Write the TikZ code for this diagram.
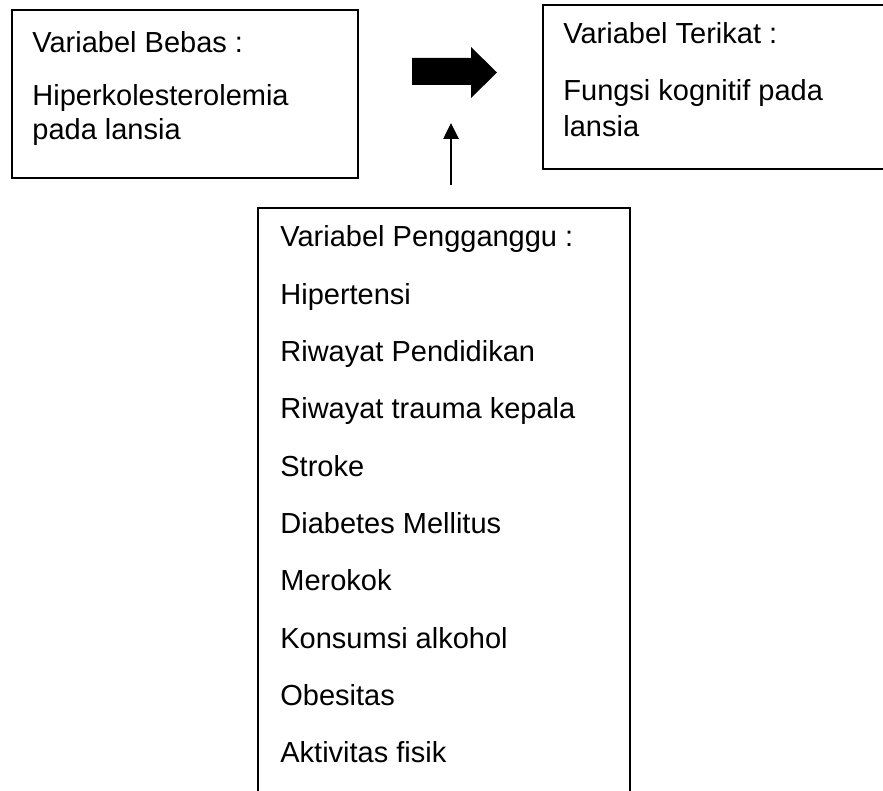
\documentclass[tikz,border=0pt]{standalone}
\usepackage{fontspec}
\setmainfont{Liberation Sans}
\usetikzlibrary{fit,arrows.meta}

\tikzset{
  kotak/.style={rectangle, draw, line width=0.6pt, inner sep=0pt},
  teks/.style={anchor=base west, inner sep=0pt, font=\fontsize{14.5}{17}\selectfont},
}

\begin{document}
\begin{tikzpicture}[x=0.5pt, y=-0.5pt]

\clip (0,0) rectangle (883,791);
\fill[white] (0,0) rectangle (883,791);

\node[kotak, fit={(12,10) (358,178)}] (bebas) {};
\node[kotak, fit={(543,5) (900,169)}] (terikat) {};
\node[kotak, fit={(258,208) (630,820)}] (ganggu) {};

\node[teks] (bebas1) at (32,53) {Variabel Bebas :};
\node[teks] (bebas2) at (32,106) {Hiperkolesterolemia};
\node[teks] (bebas3) at (32,140) {pada lansia};

\node[teks] (terikat1) at (563,44) {Variabel Terikat :};
\node[teks] (terikat2) at (563,101) {Fungsi kognitif pada};
\node[teks] (terikat3) at (563,137) {lansia};

\node[teks] (ganggu0) at (280,247) {Variabel Pengganggu :};
\node[teks] (ganggu1) at (280,304.3) {Hipertensi};
\node[teks] (ganggu2) at (280,361.6) {Riwayat Pendidikan};
\node[teks] (ganggu3) at (280,418.9) {Riwayat trauma kepala};
\node[teks] (ganggu4) at (280,476.2) {Stroke};
\node[teks] (ganggu5) at (280,533.5) {Diabetes Mellitus};
\node[teks] (ganggu6) at (280,590.8) {Merokok};
\node[teks] (ganggu7) at (280,648.1) {Konsumsi alkohol};
\node[teks] (ganggu8) at (280,705.4) {Obesitas};
\node[teks] (ganggu9) at (280,762.7) {Aktivitas fisik};

% panah tebal
\fill (412,58) -- (471,58) -- (471,47) -- (497,72.5) -- (471,98) -- (471,85) -- (412,85) -- cycle;

% panah dari variabel pengganggu
\coordinate (pangkal) at (451,185);
\coordinate (ujung) at (451,123);
\draw[line width=1.3pt, -{Triangle[length=8pt, width=7.5pt]}] (pangkal) -- (ujung);

\end{tikzpicture}
\end{document}
